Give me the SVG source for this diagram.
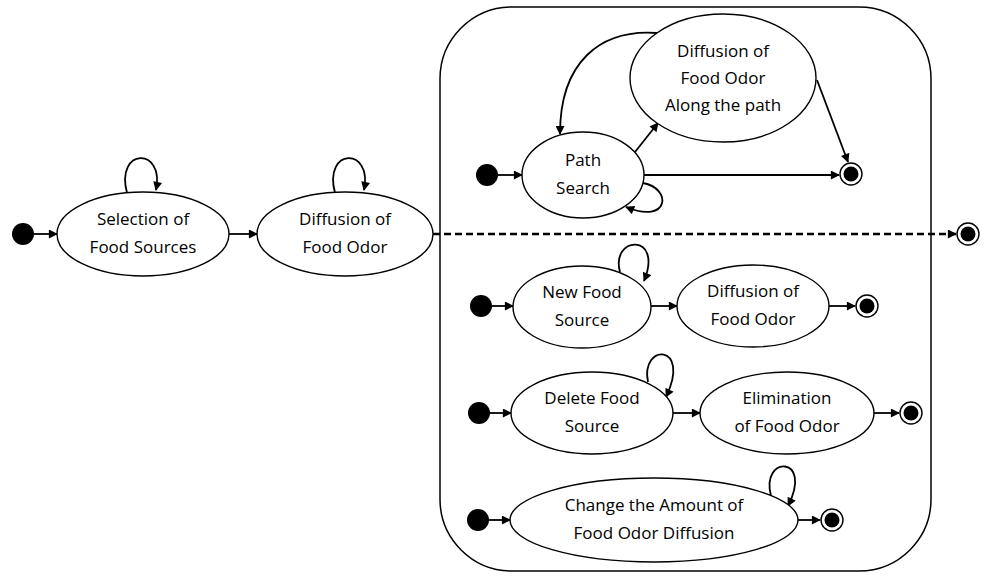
<svg xmlns="http://www.w3.org/2000/svg" width="986" height="577" viewBox="0 0 986 577">
  <style>
    .state { fill: #fff; stroke: #000; stroke-width: 1.4; }
    .init { fill: #000; }
    .fin-ring { fill: #fff; stroke: #000; stroke-width: 1.4; }
    .fin-dot { fill: #000; }
    .edge { fill: none; stroke: #000; stroke-width: 1.8; marker-end: url(#arrow); }
    .dashed { stroke-width: 2.6; stroke-dasharray: 7 4; }
    .label { font-family: "Open Sans", "Liberation Sans", sans-serif; font-size: 17px; fill: #000; text-anchor: middle; }
    .frame { fill: #fff; stroke: #000; stroke-width: 1.5; }
  </style>
  <defs>
    <marker id="arrow" viewBox="0 0 10 10" refX="9" refY="5" markerWidth="10" markerHeight="9" markerUnits="userSpaceOnUse" orient="auto">
      <path d="M0,0 L10,5 L0,10 z" fill="#000"/>
    </marker>
  </defs>

  <rect width="986" height="577" fill="#fff"/>

  <!-- composite state frame -->
  <rect class="frame" x="440" y="7" width="491" height="564" rx="72" ry="72"/>

  <g id="connectors">
    <line class="edge" x1="34" y1="234" x2="57" y2="234"/>
    <path class="edge" d="M127,193 C115,147 165,147 156,190"/>
    <line class="edge" x1="229" y1="234" x2="257" y2="234"/>
    <path class="edge" d="M335,193 C323,147 373,147 364,190"/>
    <line class="edge dashed" x1="433" y1="234" x2="956" y2="234"/>

    <line class="edge" x1="498" y1="175" x2="522" y2="175"/>
    <line class="edge" x1="635" y1="152" x2="658" y2="123"/>
    <path class="edge" d="M657,33 C600,29 560,62 560,134"/>
    <line class="edge" x1="644" y1="175" x2="839" y2="175"/>
    <line class="edge" x1="817" y1="80" x2="848" y2="162"/>
    <path class="edge" d="M643,183 C672,188 670,225 626,207"/>

    <line class="edge" x1="492" y1="306" x2="513" y2="306"/>
    <path class="edge" d="M620,272 C610,236 664,232 644,281"/>
    <line class="edge" x1="651" y1="306" x2="677" y2="306"/>
    <line class="edge" x1="829" y1="306" x2="855" y2="306"/>

    <line class="edge" x1="490" y1="413" x2="511" y2="413"/>
    <path class="edge" d="M648,382 C640,343 692,343 666,397"/>
    <line class="edge" x1="673" y1="413" x2="700" y2="413"/>
    <line class="edge" x1="874" y1="413" x2="899" y2="413"/>

    <line class="edge" x1="489" y1="520" x2="510" y2="520"/>
    <path class="edge" d="M771,496 C760,455 814,455 788,506"/>
    <line class="edge" x1="798" y1="520" x2="820" y2="520"/>
  </g>

  <!-- top level -->
  <g id="start-main"><circle class="init" cx="23" cy="234" r="11"/></g>
  <g id="selection">
    <ellipse class="state" cx="143" cy="234" rx="86" ry="42"/>
    <text class="label" x="143" y="225">Selection of</text>
    <text class="label" x="143" y="253">Food Sources</text>
  </g>
  <g id="diffusion">
    <ellipse class="state" cx="345" cy="234" rx="88" ry="42"/>
    <text class="label" x="345" y="225">Diffusion of</text>
    <text class="label" x="345" y="253">Food Odor</text>
  </g>
  <g id="end-main">
    <circle class="fin-ring" cx="968" cy="234" r="11"/>
    <circle class="fin-dot" cx="968" cy="234" r="7.5"/>
  </g>

  <!-- region 1: path search -->
  <g id="start-path"><circle class="init" cx="487" cy="175" r="11"/></g>
  <g id="path-search">
    <ellipse class="state" cx="583" cy="175" rx="61" ry="43"/>
    <text class="label" x="583" y="166">Path</text>
    <text class="label" x="583" y="194">Search</text>
  </g>
  <g id="diffusion-path">
    <ellipse class="state" cx="723" cy="78" rx="93" ry="64"/>
    <text class="label" x="723" y="57">Diffusion of</text>
    <text class="label" x="723" y="84">Food Odor</text>
    <text class="label" x="723" y="111">Along the path</text>
  </g>
  <g id="end-path">
    <circle class="fin-ring" cx="851" cy="174" r="11"/>
    <circle class="fin-dot" cx="851" cy="174" r="7.5"/>
  </g>

  <!-- region 2: new food source -->
  <g id="start-new"><circle class="init" cx="481" cy="306" r="11"/></g>
  <g id="new-food">
    <ellipse class="state" cx="582" cy="307" rx="69" ry="41"/>
    <text class="label" x="582" y="298">New Food</text>
    <text class="label" x="582" y="326">Source</text>
  </g>
  <g id="diffusion-new">
    <ellipse class="state" cx="753" cy="306" rx="76" ry="41"/>
    <text class="label" x="753" y="297">Diffusion of</text>
    <text class="label" x="753" y="325">Food Odor</text>
  </g>
  <g id="end-new">
    <circle class="fin-ring" cx="867" cy="306" r="11"/>
    <circle class="fin-dot" cx="867" cy="306" r="7.5"/>
  </g>

  <!-- region 3: delete food source -->
  <g id="start-delete"><circle class="init" cx="479" cy="413" r="11"/></g>
  <g id="delete-food">
    <ellipse class="state" cx="592" cy="413" rx="81" ry="41"/>
    <text class="label" x="592" y="404">Delete Food</text>
    <text class="label" x="592" y="432">Source</text>
  </g>
  <g id="elimination">
    <ellipse class="state" cx="787" cy="413" rx="87" ry="41"/>
    <text class="label" x="787" y="404">Elimination</text>
    <text class="label" x="787" y="432">of Food Odor</text>
  </g>
  <g id="end-delete">
    <circle class="fin-ring" cx="911" cy="413" r="11"/>
    <circle class="fin-dot" cx="911" cy="413" r="7.5"/>
  </g>

  <!-- region 4: change amount -->
  <g id="start-change"><circle class="init" cx="478" cy="520" r="11"/></g>
  <g id="change-amount">
    <ellipse class="state" cx="654" cy="520" rx="144" ry="42"/>
    <text class="label" x="654" y="511">Change the Amount of</text>
    <text class="label" x="654" y="539">Food Odor Diffusion</text>
  </g>
  <g id="end-change">
    <circle class="fin-ring" cx="832" cy="520" r="11"/>
    <circle class="fin-dot" cx="832" cy="520" r="7.5"/>
  </g>
</svg>
